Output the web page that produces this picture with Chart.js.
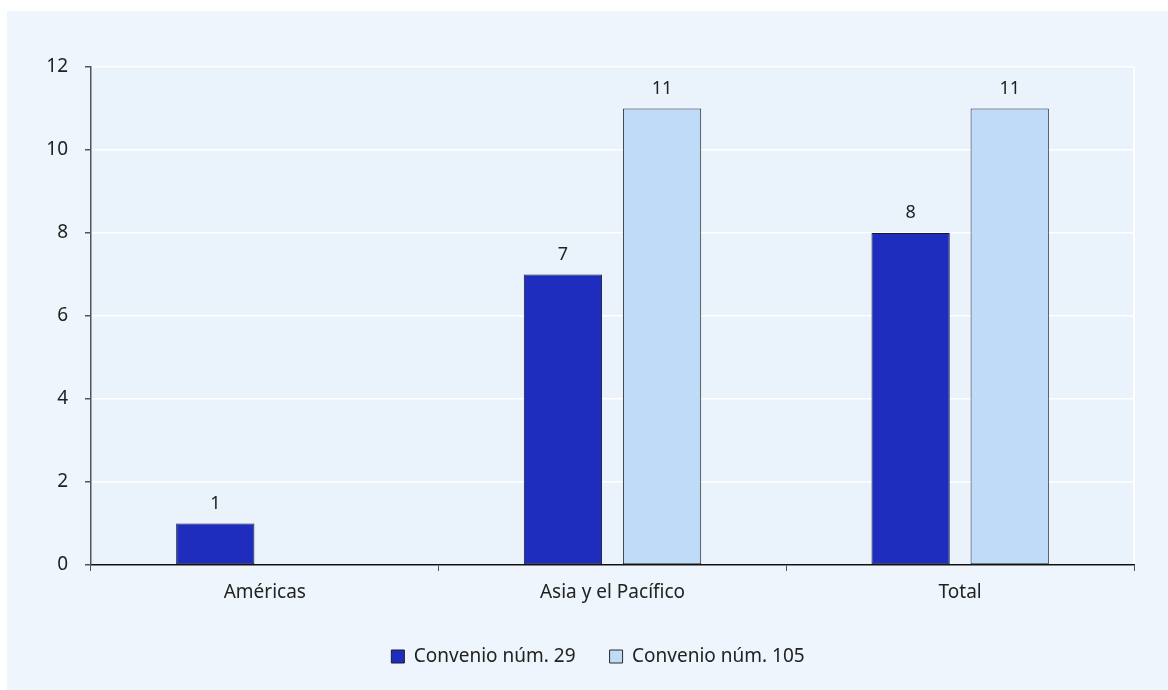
<!DOCTYPE html>
<html>
<head>
<meta charset="utf-8">
<script src="https://cdn.jsdelivr.net/npm/chart.js@4"></script>
<style>
  html, body { margin: 0; padding: 0; background: #ffffff; }
  #wrap { width: 1168px; height: 690px; }
</style>
</head>
<body>
<div id="wrap"><canvas id="chart" width="1168" height="690"></canvas></div>
<script>
// Chart data
const categories = ['Américas', 'Asia y el Pacífico', 'Total'];
const convenio29 = [1, 7, 8];
const convenio105 = [null, 11, 11];
const seriesNames = ['Convenio núm. 29', 'Convenio núm. 105'];
const yTicks = [0, 2, 4, 6, 8, 10, 12];

const FONT = '"Noto Sans", "Open Sans", sans-serif';

// Panel and plot backgrounds
const backgroundPlugin = {
    id: 'backgrounds',
    afterLayout(chart) {
        // legend sits a little right of the page centre
        if (chart.legend) {
            chart.legend.left += 16;
            chart.legend.right += 16;
        }
    },
    beforeDraw(chart) {
        const ctx = chart.ctx;
        const a = chart.chartArea;
        ctx.save();
        ctx.fillStyle = '#ffffff';
        ctx.fillRect(0, 0, chart.width, chart.height);
        ctx.fillStyle = '#eef5fc';
        ctx.fillRect(7, 11, chart.width - 7, chart.height - 11);
        ctx.fillStyle = '#eaf3fc';
        ctx.fillRect(a.left, a.top, a.right - a.left, a.bottom - a.top);
        ctx.strokeStyle = '#ffffff';
        ctx.lineWidth = 2;
        ctx.beginPath();
        ctx.moveTo(a.right, a.top);
        ctx.lineTo(a.right, a.bottom);
        ctx.stroke();
        ctx.restore();
    }
};

// Value labels above bars
const valueLabels = {
    id: 'valueLabels',
    afterDatasetsDraw(chart) {
        const ctx = chart.ctx;
        ctx.save();
        ctx.font = '18px ' + FONT;
        ctx.fillStyle = '#222222';
        ctx.textAlign = 'center';
        ctx.textBaseline = 'alphabetic';
        chart.data.datasets.forEach((ds, i) => {
            chart.getDatasetMeta(i).data.forEach((bar, j) => {
                const v = ds.data[j];
                if (v === null || v === undefined) return;
                ctx.fillText(String(v), bar.x, bar.y - 15);
            });
        });
        ctx.restore();
    }
};

new Chart(document.getElementById('chart').getContext('2d'), {
    type: 'bar',
    data: {
        labels: categories,
        datasets: [{
            label: seriesNames[0],
            data: convenio29,
            backgroundColor: '#1f2dbe',
            borderColor: '#1a1a2e',
            borderWidth: 1,
            borderSkipped: false,
            categoryPercentage: 0.57,
            barPercentage: 0.79
        }, {
            label: seriesNames[1],
            data: convenio105,
            backgroundColor: '#bfdbf7',
            borderColor: '#2a2a2a',
            borderWidth: 1,
            borderSkipped: false,
            categoryPercentage: 0.57,
            barPercentage: 0.79
        }]
    },
    options: {
        responsive: false,
        animation: false,
        layout: {
            padding: { left: 30, right: 34, top: 67, bottom: 14 }
        },
        plugins: {
            tooltip: { enabled: false },
            legend: {
                position: 'bottom',
                labels: {
                    font: { family: FONT, size: 19 },
                    color: '#222222',
                    boxWidth: 13,
                    boxHeight: 13,
                    padding: 34
                }
            }
        },
        scales: {
            x: {
                grid: {
                    offset: true,
                    drawOnChartArea: false,
                    drawTicks: true,
                    tickLength: 6,
                    tickColor: '#555555'
                },
                border: { color: '#111111', width: 1.5 },
                ticks: {
                    font: { family: FONT, size: 19 },
                    color: '#222222',
                    padding: 10
                },
                afterFit(scale) { scale.height = 48; }
            },
            y: {
                min: 0,
                max: 12,
                afterBuildTicks(scale) { scale.ticks = yTicks.map(v => ({ value: v })); },
                grid: {
                    color: '#ffffff',
                    lineWidth: 1.5,
                    drawTicks: true,
                    tickLength: 6,
                    tickColor: '#555555'
                },
                border: { color: '#555555', width: 1.5 },
                ticks: {
                    font: { family: FONT, size: 19 },
                    color: '#222222',
                    padding: 17
                },
                afterFit(scale) { scale.width = 61; }
            }
        }
    },
    plugins: [backgroundPlugin, valueLabels]
});
</script>
</body>
</html>
